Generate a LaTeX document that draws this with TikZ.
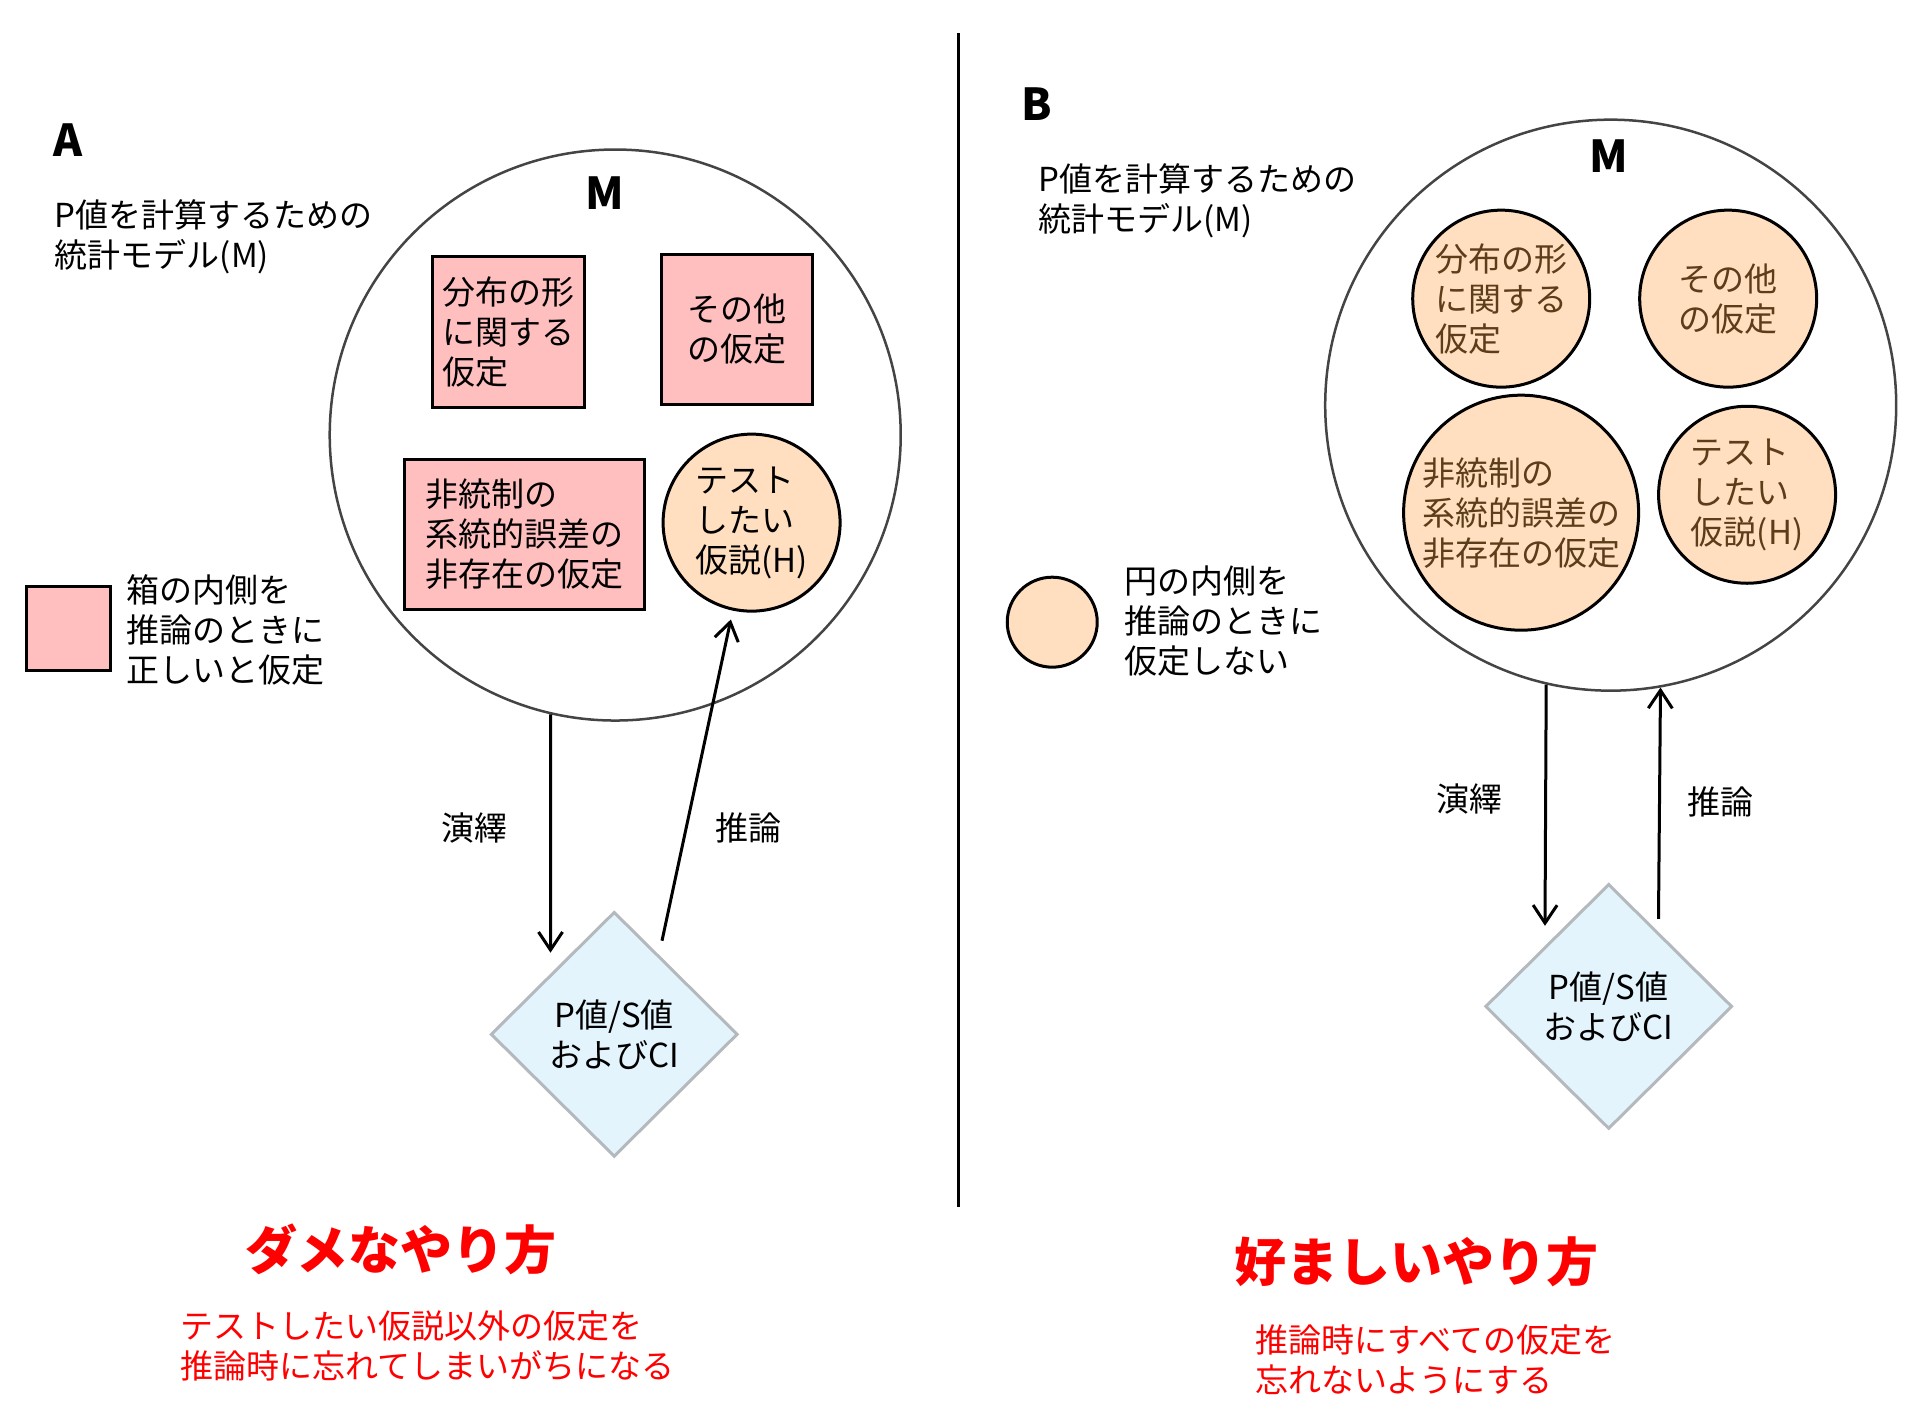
\documentclass[tikz,border=0pt]{standalone}
\usepackage{fontspec}
\setmainfont{Noto Sans CJK JP}
\usetikzlibrary{shapes.geometric,arrows.meta}
\definecolor{boxpink}{HTML}{FFBFBF}
\definecolor{circpeach}{HTML}{FFDFBF}
\definecolor{diafill}{HTML}{E3F4FD}
\definecolor{diadraw}{HTML}{B4B9BD}
\definecolor{browntext}{HTML}{5C3D1A}
\definecolor{ringgray}{HTML}{444444}
\begin{document}
\begin{tikzpicture}[x=0.9955pt,y=-0.9955pt,txt/.style={font=\fontsize{33}{40}\selectfont,align=left,inner sep=0pt},model/.style={shape=circle,draw=ringgray,line width=2.5pt,minimum size=571pt,inner sep=0pt},assum/.style={txt,shape=rectangle,draw=black,line width=3pt,fill=boxpink},free/.style={txt,shape=circle,draw=black,line width=3pt,fill=circpeach,minimum size=177pt},freeB/.style={free,text=browntext},result/.style={txt,align=center,shape=diamond,draw=diadraw,line width=3pt,fill=diafill,minimum width=247pt,minimum height=245pt},panel/.style={font=\fontsize{44}{44}\selectfont\bfseries,inner sep=0pt},verdict/.style={font=\fontsize{52}{52}\selectfont\bfseries,text=red,inner sep=0pt},note/.style={txt,text=red},arr/.style={-{Straight Barb[length=18pt,width=24pt]},line width=3pt}]
\useasboundingbox (0,0) rectangle (1927.7,1418.4);

% A
\node[panel] (lblA) at (68,141) {A};
\node[txt,anchor=west] (descA) at (55,238) {P値を計算するための\\統計モデル(M)};
\node[model] (MA) at (618,437) {};
\node[panel] (mA) at (608,194) {M};
\node[assum,minimum width=152pt,minimum height=151pt] (distA) at (511,334) {分布の形\\に関する\\仮定};
\node[assum,minimum width=151pt,minimum height=150pt] (otherA) at (740,331) {その他\\の仮定};
\node[assum,minimum width=240pt,minimum height=150pt] (biasA) at (527,537) {非統制の\\系統的誤差の\\非存在の仮定};
\node[free] (hypA) at (755,525) {テスト\\したい\\仮説(H)};
\node[assum,minimum size=84pt] (keyA) at (69,631) {};
\node[txt,anchor=west] (keytxtA) at (127,633) {箱の内側を\\推論のときに\\正しいと仮定};
\node[result] (pA) at (617,1039) {P値/S値\\およびCI};
\coordinate (dedA) at (553,957);
\coordinate (infA) at (665,945);
\draw[arr] (MA.-103) -- (dedA);
\draw[arr,shorten >=9pt] (infA) -- (hypA);
\node[txt] (dedlA) at (477,832) {演繹};
\node[txt] (inflA) at (752,832) {推論};
\node[verdict] (badA) at (403,1255) {ダメなやり方};
\node[note,anchor=west] (noteA) at (181,1352) {テストしたい仮説以外の仮定を\\推論時に忘れてしまいがちになる};

\draw[line width=3pt] (963,33) -- (963,1212);

% B
\node[panel] (lblB) at (1041,105) {B};
\node[txt,anchor=west] (descB) at (1043,202) {P値を計算するための\\統計モデル(M)};
\node[model] (MB) at (1618,407) {};
\node[panel] (mB) at (1616,157) {M};
\node[freeB] (distB) at (1508,300) {分布の形\\に関する\\仮定};
\node[freeB] (otherB) at (1736,300) {その他\\の仮定};
\node[freeB,minimum size=235pt] (biasB) at (1528,515) {非統制の\\系統的誤差の\\非存在の仮定};
\node[freeB] (hypB) at (1755,497) {テスト\\したい\\仮説(H)};
\node[free,minimum size=90pt] (keyB) at (1057,625) {};
\node[txt,anchor=west] (keytxtB) at (1129,624) {円の内側を\\推論のときに\\仮定しない};
\node[result] (pB) at (1616,1011) {P値/S値\\およびCI};
\coordinate (dedB) at (1552,930);
\coordinate (infB) at (1666,923);
\draw[arr] (MB.-103) -- (dedB);
\draw[arr] (infB) -- (MB.-80);
\node[txt] (dedlB) at (1476,803) {演繹};
\node[txt] (inflB) at (1728,806) {推論};
\node[verdict] (goodB) at (1423,1268) {好ましいやり方};
\node[note,anchor=west] (noteB) at (1261,1366) {推論時にすべての仮定を\\忘れないようにする};
\end{tikzpicture}
\end{document}
